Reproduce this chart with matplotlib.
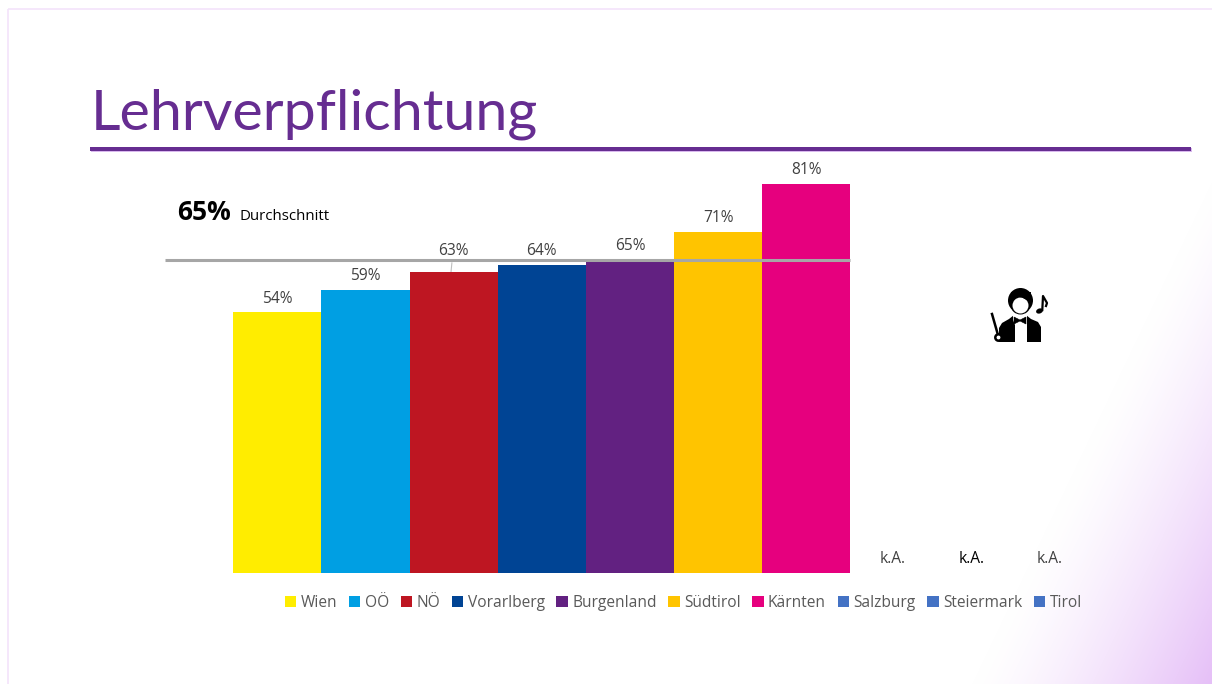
import numpy as np
import matplotlib
matplotlib.use("Agg")
import matplotlib.pyplot as plt
from matplotlib.patches import Circle, Ellipse, Polygon, Rectangle

categories = ["Wien", "OÖ", "NÖ", "Vorarlberg", "Burgenland", "Südtirol", "Kärnten", "Salzburg", "Steiermark", "Tirol"]
values = [54.4, 59, 62.7, 64.2, 64.8, 71, 81, np.nan, np.nan, np.nan]
colors = ["#FFED00", "#009FE3", "#BE1622", "#004494", "#622181", "#FFC400", "#E6007E", "#4472C4", "#4472C4", "#4472C4"]
average = 65.2
title = "Lehrverpflichtung"
missing_label = "k.A."

W, H = 1212, 684
PURPLE = "#662D91"
LABEL = "#404040"
LEGEND = "#595959"
BODY_FONT = ["Open Sans", "DejaVu Sans"]

fig = plt.figure(figsize=(W / 100, H / 100), dpi=100, facecolor="white")

# slide background
bg = fig.add_axes([0, 0, 1, 1], zorder=0)
xx, yy = np.meshgrid(np.arange(W) + .5, np.arange(H) + .5)
t = np.clip(((xx - 1060) * 0.9 + (yy - 500) * 0.43) / 216, 0, 1) ** 1.35
rgb = np.ones((H, W, 3))
corner = np.array([0.90, 0.75, 0.97])
for k in range(3):
    rgb[..., k] = 1 + (corner[k] - 1) * t
rgb[:8, :] = 1
rgb[:, :7] = 1
bg.imshow(rgb, extent=(0, W, H, 0), aspect="auto", interpolation="bilinear", zorder=0)
bg.set_xlim(0, W)
bg.set_ylim(H, 0)
bg.axis("off")
bg.plot([7.5, W], [8.5, 8.5], color="#F3E3FB", lw=1.2, zorder=1, solid_capstyle="butt")
bg.plot([7.5, 7.5], [8.5, H], color="#F3E3FB", lw=1.2, zorder=1, solid_capstyle="butt")

# title and rule
bg.text(91, 129, title, family=["Lato", "DejaVu Sans"], fontsize=41.4, color=PURPLE, va="baseline", ha="left", zorder=3)
bg.add_patch(Rectangle((91, 148), 1101, 4.2, color="#D9B8EE", lw=0, zorder=3))
bg.add_patch(Rectangle((90, 147), 1101, 4.3, color=PURPLE, lw=0, zorder=3))

# chart axes
L, R, B, T = 165, 1115, 573, 150
unit_w = 88.14
px_per_pct = 4.80
ax = fig.add_axes([L / W, 1 - B / H, (R - L) / W, (B - T) / H], zorder=2)
ax.patch.set_alpha(0)
x0 = (L - 233.3) / unit_w - 0.5
ax.set_xlim(x0, x0 + (R - L) / unit_w)
ax.set_ylim(0, (B - T) / px_per_pct)
ax.axis("off")
pos = np.arange(len(categories))
bars = ax.bar(pos, values, width=1.0, color=colors, linewidth=0, zorder=2)
ax.hlines(average, x0, 6.5, color="#A6A6A6", lw=2.2, zorder=3)

label_offsets = [13, 14, 21, 14, 16, 14, 14]
for p, v, off in zip(pos, values, label_offsets):
    ax.annotate(f"{round(v)}%", (p, v), xytext=(0, off), textcoords="offset pixels", ha="center", va="center",
                family=BODY_FONT, fontsize=11.2, color=LABEL, zorder=4)
ax.plot([1.97, 1.98], [62.7, 64.6], color="#BFBFBF", lw=0.8, zorder=1)

handles = list(bars.patches)
leg = ax.legend(handles, categories, loc="center", bbox_to_anchor=((683.5 - L) / (R - L), (B - 603) / (B - T)),
                ncol=10, frameon=False, prop={"family": BODY_FONT, "size": 11.2}, labelcolor=LEGEND,
                handlelength=0.72, handleheight=0.72, handletextpad=0.28, columnspacing=0.76, borderpad=0)

# text over the chart
for x, c in zip((893, 972, 1050), (LABEL, "black", LABEL)):
    bg.text(x, 559, missing_label, family=BODY_FONT, fontsize=11.2, color=c, ha="center", va="center", zorder=5)
bg.text(177, 213, "65%", family=BODY_FONT, fontsize=19, fontweight="bold", color="black", va="center", zorder=5)
bg.text(239.5, 217, "Durchschnitt", family=BODY_FONT, fontsize=10.8, color="black", va="center", zorder=5)

# conductor pictogram
ink = "black"
def add(p):
    bg.add_patch(p)
add(Polygon([(999, 342), (999, 328), (1002, 323), (1009, 319), (1014, 315), (1026, 315), (1031, 319), (1038, 322), (1041, 327), (1041, 342)],
            closed=True, fc=ink, ec="none", zorder=6))
add(Polygon([(1013, 315), (1027, 315), (1027, 342), (1013, 342)], closed=True, fc="white", ec="none", zorder=7))
add(Polygon([(1013, 342), (1015, 342), (1015, 325), (1013, 320)], closed=True, fc=ink, ec="none", zorder=8))
add(Polygon([(1014, 317), (1020, 320), (1026, 317), (1026, 324), (1020, 321), (1014, 324)], closed=True, fc=ink, ec=ink, lw=.4, zorder=8))
add(Circle((1020.5, 300.5), 12.5, fc=ink, ec="none", zorder=6))
add(Ellipse((1020.5, 306), 19, 17, fc=ink, ec="none", zorder=6))
add(Ellipse((1020.5, 305.5), 16, 16, fc="white", ec="none", zorder=7))
add(Polygon([(1011, 302), (1015, 296.5), (1022, 297.5), (1030, 302), (1031, 292), (1011, 292)], closed=True, fc=ink, ec="none", zorder=8))
bg.plot([992, 998], [314, 335], color=ink, lw=1.8, zorder=6)
add(Circle((998.5, 337.5), 3.2, fc="white", ec=ink, lw=1.8, zorder=7))
add(Ellipse((1039.5, 311), 7, 5, angle=-20, fc=ink, ec="none", zorder=6))
bg.plot([1042.3, 1043, 1047, 1046], [310, 296, 303, 306], color=ink, lw=1.6, zorder=6)

fig.savefig("out.png", dpi=100, facecolor="white")
